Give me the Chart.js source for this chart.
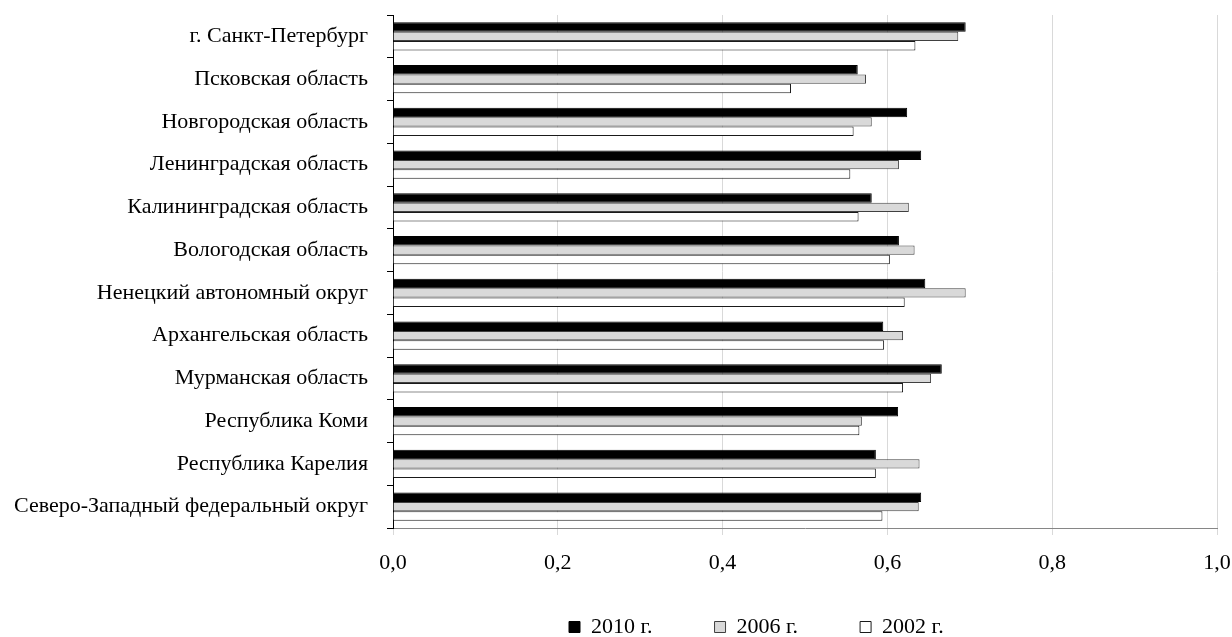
<!DOCTYPE html>
<html>
<head>
<meta charset="utf-8">
<script src="https://cdn.jsdelivr.net/npm/chart.js@4.4.1/dist/chart.umd.min.js"></script>
<style>
  html, body { margin: 0; padding: 0; background: #ffffff; }
  #wrap { width: 1232px; height: 637px; }
</style>
</head>
<body>
<div id="wrap"><canvas id="c" width="1232" height="637"></canvas></div>
<script>
const categories = [
  "г. Санкт-Петербург",
  "Псковская область",
  "Новгородская область",
  "Ленинградская область",
  "Калининградская область",
  "Вологодская область",
  "Ненецкий автономный округ",
  "Архангельская область",
  "Мурманская область",
  "Республика Коми",
  "Республика Карелия",
  "Северо-Западный федеральный округ"
];
const seriesNames = ["2010 г.", "2006 г.", "2002 г."];
const values2010 = [0.695, 0.564, 0.624, 0.641, 0.581, 0.614, 0.646, 0.595, 0.666, 0.613, 0.586, 0.641];
const values2006 = [0.686, 0.574, 0.581, 0.614, 0.626, 0.633, 0.695, 0.619, 0.653, 0.569, 0.639, 0.638];
const values2002 = [0.634, 0.483, 0.559, 0.555, 0.565, 0.603, 0.621, 0.596, 0.619, 0.566, 0.586, 0.594];
const xTicks = [0, 0.2, 0.4, 0.6, 0.8, 1.0];

const FONT = "'Liberation Serif', 'Times New Roman', serif";
const FS = 22;

const legendPlace = {
  id: 'legendPlace',
  afterLayout(chart) {
    const l = chart.legend;
    if (!l) return;
    const ca = chart.chartArea;
    const pad = l.options.labels.padding;
    l.left = ca.left + 176 - pad;
    l.right = chart.width;
    l.top = ca.bottom + 88 - pad;
    l.bottom = chart.height;
    l.width = l.right - l.left;
    l.height = l.bottom - l.top;
  }
};

new Chart(document.getElementById('c'), {
  type: 'bar',
  data: {
    labels: categories,
    datasets: [
      { label: seriesNames[0], data: values2010, backgroundColor: '#000000', borderColor: '#000000', borderWidth: 1, borderSkipped: 'start' },
      { label: seriesNames[1], data: values2006, backgroundColor: '#d9d9d9', borderColor: '#404040', borderWidth: 1, borderSkipped: 'start' },
      { label: seriesNames[2], data: values2002, backgroundColor: '#ffffff', borderColor: '#1a1a1a', borderWidth: 1, borderSkipped: 'start' }
    ]
  },
  options: {
    indexAxis: 'y',
    responsive: false,
    animation: false,
    devicePixelRatio: 1,
    datasets: { bar: { categoryPercentage: 0.666, barPercentage: 1.0 } },
    layout: { padding: { top: 15, left: 0, right: 15, bottom: 14 } },
    scales: {
      x: {
        min: 0, max: 1,
        afterBuildTicks(scale) { scale.ticks = xTicks.map(v => ({ value: v })); },
        afterFit(scale) { scale.height = 48; scale.paddingLeft = 0; scale.paddingRight = 0; },
        ticks: {
          color: '#000',
          font: { family: FONT, size: FS },
          padding: 15,
          callback(v) { return Number(v).toFixed(1).replace('.', ','); }
        },
        grid: { color: '#d9d9d9', lineWidth: 1, tickLength: 7, drawOnChartArea: true },
        border: { display: true, color: '#868686', width: 1 }
      },
      y: {
        afterFit(scale) { scale.width = 393; scale.paddingTop = 0; scale.paddingBottom = 0; },
        ticks: {
          color: '#000',
          font: { family: FONT, size: FS },
          padding: 19
        },
        grid: { drawOnChartArea: false, drawTicks: true, tickLength: 6, color: '#000', offset: true },
        border: { display: true, color: '#000', width: 1 }
      }
    },
    plugins: {
      legend: {
        position: 'bottom',
        align: 'start',
        maxHeight: 47,
        labels: {
          color: '#000',
          font: { family: FONT, size: FS },
          boxWidth: 11,
          boxHeight: 11,
          padding: 62
        }
      },
      tooltip: { enabled: false }
    }
  },
  plugins: [legendPlace]
});
</script>
</body>
</html>
